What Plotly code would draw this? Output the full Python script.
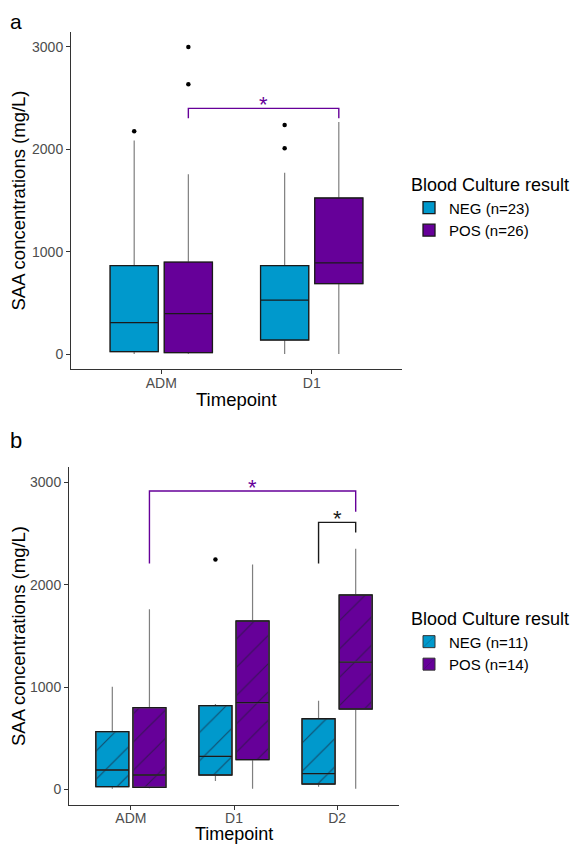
import plotly.graph_objects as go

# ---------------- Panel a data (mg/L) ----------------
timepoints_a = ["ADM", "D1"]
neg_a_lower = [3, 3]
neg_a_q1 = [26, 140]
neg_a_median = [309, 530]
neg_a_q3 = [866, 866]
neg_a_upper = [2086, 1773]
pos_a_lower = [3, 3]
pos_a_q1 = [16, 690]
pos_a_median = [397, 892]
pos_a_q3 = [901, 1526]
pos_a_upper = [1757, 2268]
neg_a_out_tp = ["ADM", "D1", "D1"]
neg_a_out_val = [2177, 2011, 2239]
pos_a_out_tp = ["ADM", "ADM"]
pos_a_out_val = [2636, 3000]
legend_a = ["NEG (n=23)", "POS (n=26)"]

# significance brackets panel a
sig_a_start = [("ADM", "POS")]
sig_a_end = [("D1", "POS")]
sig_a_top = [2401]
sig_a_left_end = [2304]
sig_a_right_end = [2304]
sig_a_label = ["*"]

# ---------------- Panel b data (mg/L) ----------------
timepoints_b = ["ADM", "D1", "D2"]
neg_b_lower = [7, 81, 26]
neg_b_q1 = [26, 140, 52]
neg_b_median = [189, 322, 153]
neg_b_q3 = [564, 818, 690]
neg_b_upper = [1003, 834, 866]
pos_b_lower = [10, 7, 7]
pos_b_q1 = [20, 290, 785]
pos_b_median = [140, 847, 1244]
pos_b_q3 = [798, 1645, 1899]
pos_b_upper = [1759, 2198, 2352]
neg_b_out_tp = ["D1"]
neg_b_out_val = [2247]
pos_b_out_tp = []
pos_b_out_val = []
legend_b = ["NEG (n=11)", "POS (n=14)"]

sig_b_start = [("ADM", "POS"), ("D2", "NEG")]
sig_b_end = [("D2", "POS"), ("D2", "POS")]
sig_b_top = [2915, 2609]
sig_b_left_end = [2208, 2208]
sig_b_right_end = [2713, 2511]
sig_b_label = ["*", "*"]

yticks = [0, 1000, 2000, 3000]
x_title = "Timepoint"
y_title = "SAA concentrations (mg/L)"

# ---------------- style / layout ----------------
FONT = "Liberation Sans, Arial, sans-serif"
COL = {"NEG": "#0099CC", "POS": "#660099"}
DODGE = 0.18
BOXW = 0.32
PAGE_W, PAGE_H = 584, 844
OFF = 8                      # default page body margin
W, H = PAGE_W - OFF, PAGE_H - OFF


def px_x(p):
    return (p - OFF) / W


def px_y(p):
    return 1 - (p - OFF) / H


def xpos(cats, tp, grp):
    return cats.index(tp) + 1 + (-DODGE if grp == "NEG" else DODGE)


fig = go.Figure()


def add_panel(cats, stats, outliers, names, xa, ya, legend, patterned):
    for grp, (lo, q1, med, q3, hi), name in zip(["NEG", "POS"], stats, names):
        xs = [xpos(cats, tp, grp) for tp in cats]
        if patterned:
            fig.add_trace(go.Bar(
                x=xs, base=q1, y=[b - a for a, b in zip(q1, q3)], width=BOXW,
                marker=dict(color=COL[grp], line=dict(color="#333333", width=1),
                            pattern=dict(shape="/", size=20, solidity=0.06,
                                         fgcolor="#1c1c30", fgopacity=0.6)),
                name=name, legend=legend, showlegend=True, hoverinfo="skip",
                xaxis=xa, yaxis=ya))
        # whiskers (grey)
        fig.add_trace(go.Box(
            x=xs, q1=q1, median=med, q3=q3, lowerfence=lo, upperfence=hi,
            width=BOXW, whiskerwidth=0, fillcolor="rgba(0,0,0,0)",
            line=dict(color="#7f7f7f", width=1.2),
            showlegend=False, xaxis=xa, yaxis=ya, hoverinfo="skip"))
        # box body + median (dark)
        fig.add_trace(go.Box(
            x=xs, q1=q1, median=med, q3=q3, lowerfence=q1, upperfence=q3,
            width=BOXW, whiskerwidth=0,
            fillcolor="rgba(0,0,0,0)" if patterned else COL[grp],
            line=dict(color="#1a1a1a", width=1.3),
            name=name, legend=legend, showlegend=not patterned,
            xaxis=xa, yaxis=ya))
    for grp, (tps, vals) in zip(["NEG", "POS"], outliers):
        if tps:
            fig.add_trace(go.Scatter(
                x=[xpos(cats, tp, grp) for tp in tps], y=vals, mode="markers",
                marker=dict(color="black", size=4.5), showlegend=False,
                xaxis=xa, yaxis=ya))


def add_brackets(cats, starts, ends, tops, lefts, rights, labels, xa, ya):
    for s, e, top, le, re_, lab in zip(starts, ends, tops, lefts, rights, labels):
        x0 = xpos(cats, *s)
        x1 = xpos(cats, *e)
        color = COL[s[1]] if s[1] == e[1] else "#1a1a1a"
        fig.add_trace(go.Scatter(
            x=[x0, x0, x1, x1], y=[le, top, top, re_], mode="lines",
            line=dict(color=color, width=1.4), showlegend=False,
            hoverinfo="skip", xaxis=xa, yaxis=ya))
        fig.add_annotation(
            x=(x0 + x1) / 2, y=top, xref=xa, yref=ya, text=lab, showarrow=False,
            yanchor="middle", yshift=4, font=dict(family=FONT, size=22, color=color))


add_panel(timepoints_a,
          [(neg_a_lower, neg_a_q1, neg_a_median, neg_a_q3, neg_a_upper),
           (pos_a_lower, pos_a_q1, pos_a_median, pos_a_q3, pos_a_upper)],
          [(neg_a_out_tp, neg_a_out_val), (pos_a_out_tp, pos_a_out_val)],
          legend_a, "x", "y", "legend", False)
add_brackets(timepoints_a, sig_a_start, sig_a_end, sig_a_top, sig_a_left_end,
             sig_a_right_end, sig_a_label, "x", "y")

add_panel(timepoints_b,
          [(neg_b_lower, neg_b_q1, neg_b_median, neg_b_q3, neg_b_upper),
           (pos_b_lower, pos_b_q1, pos_b_median, pos_b_q3, pos_b_upper)],
          [(neg_b_out_tp, neg_b_out_val), (pos_b_out_tp, pos_b_out_val)],
          legend_b, "x2", "y2", "legend2", True)
add_brackets(timepoints_b, sig_b_start, sig_b_end, sig_b_top, sig_b_left_end,
             sig_b_right_end, sig_b_label, "x2", "y2")

axis_common = dict(showline=True, linecolor="#333333", linewidth=1, ticks="outside",
                   ticklen=4, tickcolor="#333333", tickwidth=1, showgrid=False,
                   zeroline=False, automargin=False,
                   tickfont=dict(family=FONT, size=14, color="#4D4D4D"))

ytitle = dict(text=y_title, standoff=9, font=dict(family=FONT, size=18.5, color="black"))

legend_common = dict(xanchor="left", yanchor="top",
                     title=dict(text="Blood Culture result",
                                font=dict(family=FONT, size=18, color="black")),
                     font=dict(family=FONT, size=15, color="black"),
                     bgcolor="rgba(0,0,0,0)", itemwidth=30, tracegroupgap=0)

xa_dom = [px_x(71), px_x(402)]
xb_dom = [px_x(69), px_x(399)]

fig.update_layout(
    width=W, height=H, margin=dict(l=0, r=0, t=0, b=0),
    paper_bgcolor="white", plot_bgcolor="white",
    font=dict(family=FONT), barmode="overlay", boxmode="overlay",
    xaxis=dict(domain=xa_dom, anchor="y", range=[0.4, 2.6],
               tickvals=list(range(1, len(timepoints_a) + 1)), ticktext=timepoints_a,
               ticklabelstandoff=-3, **axis_common),
    yaxis=dict(domain=[px_y(369), px_y(32)], anchor="x", range=[-143, 3146],
               tickvals=yticks, title=ytitle, **axis_common),
    xaxis2=dict(domain=xb_dom, anchor="y2", range=[0.4, 3.6],
                tickvals=list(range(1, len(timepoints_b) + 1)), ticktext=timepoints_b,
                ticklabelstandoff=-4, **axis_common),
    yaxis2=dict(domain=[px_y(805), px_y(467)], anchor="x2", range=[-153, 3150],
                tickvals=yticks, title=ytitle, **axis_common),
    legend=dict(x=px_x(409), y=px_y(168), **legend_common),
    legend2=dict(x=px_x(409), y=px_y(602), **legend_common),
)

# x-axis titles (placed as paper annotations to keep them inside the page)
for dom, ypx, fs in [(xa_dom, 399, 18.5), (xb_dom, 834, 18)]:
    fig.add_annotation(x=sum(dom) / 2, y=px_y(ypx), xref="paper", yref="paper",
                       text=x_title, showarrow=False, xanchor="center", yanchor="middle",
                       borderpad=0, font=dict(family=FONT, size=fs, color="black"))

fig.add_annotation(x=px_x(16), y=1, xref="paper", yref="paper", text="a",
                   showarrow=False, xanchor="center", yanchor="top",
                   font=dict(family=FONT, size=21, color="black"))
fig.add_annotation(x=px_x(16), y=px_y(441), xref="paper", yref="paper", text="b",
                   showarrow=False, xanchor="center", yanchor="middle",
                   font=dict(family=FONT, size=22, color="black"))

fig.write_html("out.html")
